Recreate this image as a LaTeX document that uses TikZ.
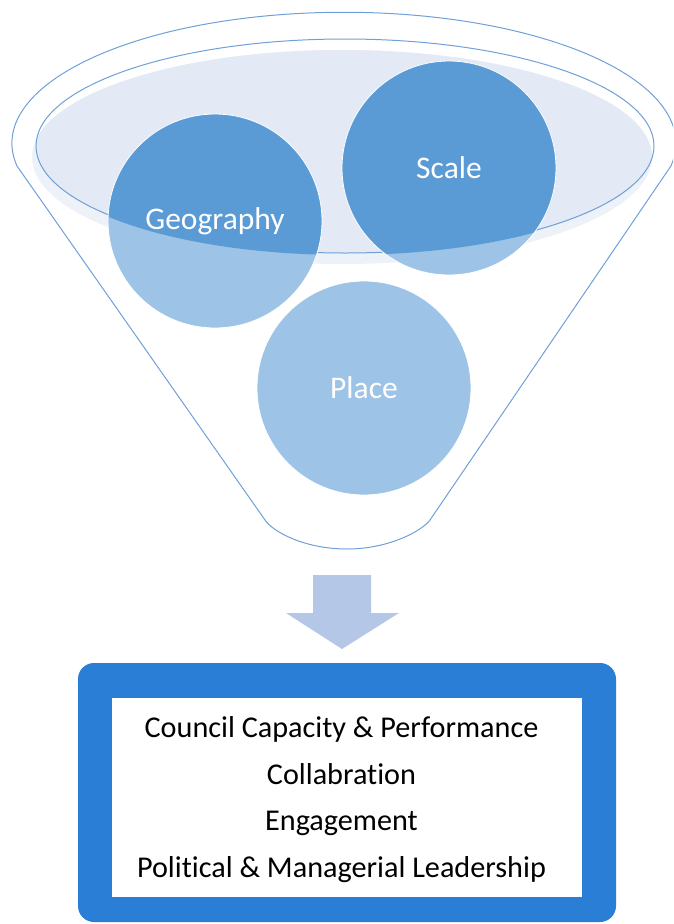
\documentclass[tikz,border=0pt]{standalone}
\usepackage{fontspec}
\setmainfont{Carlito}[Ligatures=NoCommon]
\usetikzlibrary{positioning}
\definecolor{rimline}{RGB}{111,160,216}
\definecolor{bowlhalo}{RGB}{237,241,248}
\definecolor{bowlfill}{RGB}{227,234,246}
\definecolor{balldark}{RGB}{91,155,213}
\definecolor{balllight}{RGB}{157,195,230}
\definecolor{arrowfill}{RGB}{180,199,231}
\definecolor{framecol}{RGB}{43,126,214}
\pgfdeclarelayer{back}
\pgfsetlayers{back,main}
\tikzset{
	ball/.style = {circle, draw=white, line width=0.8pt, minimum size=214pt, inner sep=0pt, text=white, font=\fontsize{31.5}{38}\selectfont},
	funnelline/.style = {draw=rimline, line width=1pt},
	frame/.style = {rectangle, rounded corners=16pt, fill=framecol, minimum width=538pt, minimum height=259pt},
	panel/.style = {rectangle, fill=white, minimum width=470pt, minimum height=199pt},
	items/.style = {align=center, inner sep=0pt, font=\fontsize{30.2}{46.6}\selectfont},
}

\begin{document}
\begin{tikzpicture}[x=1pt, y=-1pt]
	\useasboundingbox (0,0) rectangle (673,924);
	\clip (0,0) rectangle (673,924);
	
	% Balls in the funnel
	\node[ball] (geo) at (215,221) {Geography};
	\node[ball] (scale) at (449,168) {Scale};
	\node[ball] (place) at (364,388) {Place};
	
	\begin{pgfonlayer}{back}
		% Funnel bowl
		\fill[bowlhalo] (342,157) ellipse [x radius=310, y radius=107];
		\begin{scope}
			\clip (345,146) ellipse [x radius=309, y radius=107];
			\fill[bowlfill] (342,157) ellipse [x radius=310, y radius=107];
		\end{scope}
		\draw[funnelline] (345,146) ellipse [x radius=309, y radius=107];
		% ball fills
		\fill[balllight] (geo.center) circle (107);
		\fill[balllight] (scale.center) circle (107);
		\fill[balllight] (place.center) circle (107);
		\begin{scope}
			\clip (345,148) ellipse [x radius=309, y radius=107];
			\fill[balldark] (geo.center) circle (107);
			\fill[balldark] (scale.center) circle (107);
		\end{scope}
	\end{pgfonlayer}
	
	% Funnel outline
	\draw[funnelline] (17,166) arc [start angle=170, end angle=370, x radius=332, y radius=131]
		-- (430,520) .. controls (423,530) and (390,549) .. (347,549)
		.. controls (305,549) and (273,532) .. (265,520) -- cycle;
	
	% Block arrow
	\fill[arrowfill] (313,575) -- (371,575) -- (371,613) -- (399,613) -- (342,649) -- (286,613) -- (313,613) -- cycle;
	
	% Result box
	\node[frame] (frame) at (347,792.5) {};
	\node[panel] (panel) at (347,797.5) {};
	\node[items] (list) at ([xshift=-5.5pt, yshift=-2pt]panel.center) {Council Capacity \& Performance\\ Collabration\\ Engagement\\ Political \& Managerial Leadership};
	
\end{tikzpicture}
\end{document}
